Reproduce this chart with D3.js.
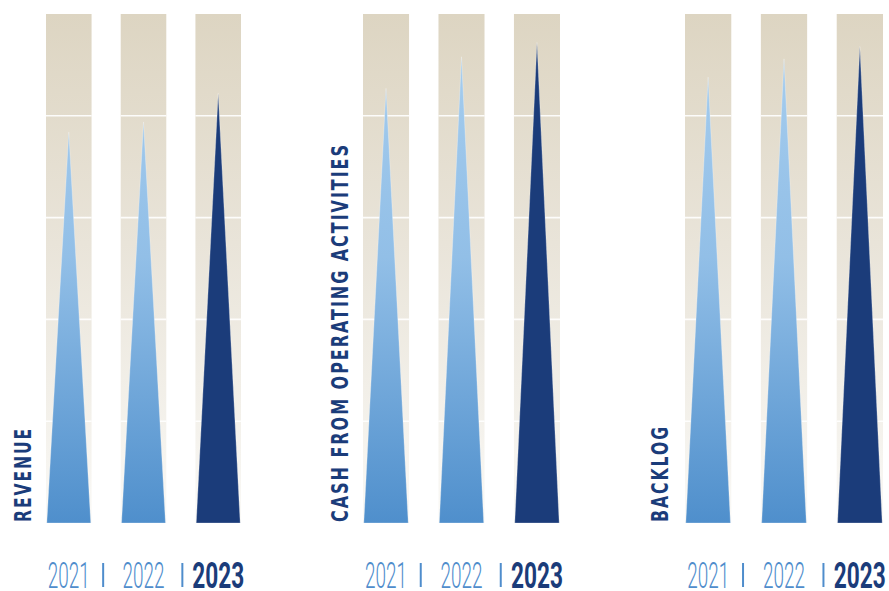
<!DOCTYPE html>
<html>
<head>
<meta charset="utf-8">
<script src="https://cdn.jsdelivr.net/npm/d3@7/dist/d3.min.js"></script>
<style>
  html, body { margin: 0; padding: 0; background: #ffffff; }
  svg { display: block; }
</style>
</head>
<body>
<svg id="chart" width="889" height="591"></svg>
<script>
// ---- data ----
const panelTitles = ["REVENUE", "CASH FROM OPERATING ACTIVITIES", "BACKLOG"];
const years = ["2021", "2022", "2023"];
const revenue = [3.84, 3.94, 4.22];
const cashFromOps = [4.27, 4.58, 4.72];
const backlog = [4.38, 4.56, 4.68];
const gridTicks = [1, 2, 3, 4];
const yDomain = [0, 5];

const seriesList = [revenue, cashFromOps, backlog];

// ---- layout ----
const plotTop = 14, plotBottom = 523;
const panelRanges = [[46, 241], [363, 560], [685, 883]];
const titleX = [31, 348, 668];
const titleLen = [95, 379, 97];

const svg = d3.select("#chart");
const defs = svg.append("defs");

const bgGrad = defs.append("linearGradient")
  .attr("id", "bgGrad").attr("gradientUnits", "userSpaceOnUse")
  .attr("x1", 0).attr("x2", 0).attr("y1", plotTop).attr("y2", plotBottom);
bgGrad.append("stop").attr("offset", "0%").attr("stop-color", "#ddd5c2");
bgGrad.append("stop").attr("offset", "45%").attr("stop-color", "#e9e4d9");
bgGrad.append("stop").attr("offset", "100%").attr("stop-color", "#faf9f6");

const lightGrad = defs.append("linearGradient")
  .attr("id", "lightGrad").attr("gradientUnits", "userSpaceOnUse")
  .attr("x1", 0).attr("x2", 0).attr("y1", 40).attr("y2", plotBottom);
lightGrad.append("stop").attr("offset", "0%").attr("stop-color", "#a6cdee");
lightGrad.append("stop").attr("offset", "45%").attr("stop-color", "#92bfe7");
lightGrad.append("stop").attr("offset", "100%").attr("stop-color", "#4f8fcc");

const y = d3.scaleLinear().domain(yDomain).range([plotBottom, plotTop]);

const fontCond = "'Liberation Sans Narrow', 'DejaVu Sans Condensed', 'Roboto', sans-serif";

function fitText(sel, cx, baseline, target) {
  const w = sel.node().getBBox().width || target;
  const s = target / w;
  sel.attr("transform", `translate(${cx - target / 2},${baseline}) scale(${s},1)`);
}

panelTitles.forEach((title, pi) => {
  const x = d3.scaleBand().domain(years).range(panelRanges[pi]).paddingInner(0.39).paddingOuter(0);
  const bw = x.bandwidth();
  const g = svg.append("g");
  const values = seriesList[pi];

  // column backgrounds
  g.selectAll("rect.bg").data(years).join("rect")
    .attr("class", "bg")
    .attr("x", d => x(d)).attr("y", y(yDomain[1]))
    .attr("width", bw).attr("height", y(yDomain[0]) - y(yDomain[1]))
    .attr("fill", "url(#bgGrad)");

  // gridlines inside columns
  years.forEach(yr => {
    g.selectAll(null).data(gridTicks).join("line")
      .attr("x1", x(yr)).attr("x2", x(yr) + bw)
      .attr("y1", d => y(d)).attr("y2", d => y(d))
      .attr("stroke", "#ffffff").attr("stroke-width", 1.6).attr("stroke-opacity", 0.9);
  });

  // triangles
  g.selectAll("path.spike").data(years).join("path")
    .attr("class", "spike")
    .attr("d", (d, i) => {
      const x0 = x(d) + 0.8, x1 = x(d) + bw - 0.8, xc = x(d) + bw / 2;
      return `M${x0},${y(0)} L${xc},${y(values[i])} L${x1},${y(0)} Z`;
    })
    .attr("fill", (d, i) => i === 2 ? "#1b3c7a" : "url(#lightGrad)")
    .attr("stroke", "#ffffff").attr("stroke-opacity", 0.35).attr("stroke-width", 0.8);

  // rotated title
  g.append("text")
    .attr("transform", `translate(${titleX[pi]},${plotBottom - 1}) rotate(-90)`)
    .attr("font-family", fontCond)
    .attr("font-weight", "bold")
    .attr("font-size", 23)
    .attr("letter-spacing", 2.5)
    .attr("fill", "#1b3c7a")
    .attr("textLength", titleLen[pi])
    .attr("lengthAdjust", "spacingAndGlyphs")
    .text(title);

  // year labels
  years.forEach((yr, i) => {
    const cx = x(yr) + bw / 2;
    const last = i === years.length - 1;
    const t = g.append("text")
      .attr("x", 0).attr("y", 0)
      .attr("font-family", "Roboto, 'Liberation Sans', sans-serif")
      .attr("font-weight", last ? 700 : 300)
      .attr("font-size", 36)
      .attr("fill", last ? "#1b3c7a" : "#4f8dcc")
      .text(yr);
    fitText(t, cx, 588, last ? 52 : 42);
  });

  // separators
  const sepX = [
    x(years[0]) + bw / 2 + (x(years[1]) - x(years[0])) * 0.46,
    x(years[1]) + bw / 2 + (x(years[2]) - x(years[1])) * 0.52
  ];
  g.selectAll("line.sep").data(sepX).join("line")
    .attr("class", "sep")
    .attr("x1", d => d).attr("x2", d => d)
    .attr("y1", 563).attr("y2", 587)
    .attr("stroke", "#4f8dcc").attr("stroke-width", 2);
});
</script>
</body>
</html>
